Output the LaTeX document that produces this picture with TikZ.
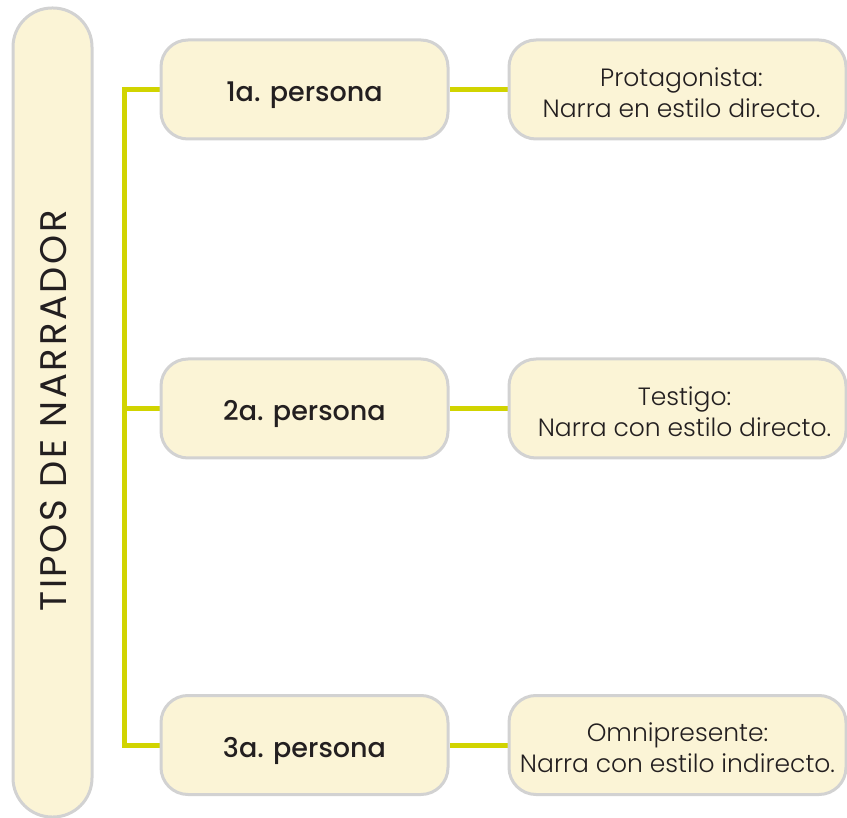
\documentclass[tikz,border=0pt]{standalone}
\usepackage{fontspec}
\setmainfont{Poppins}
\newfontfamily\lightfont{Poppins Light}
\newfontfamily\medfont{Poppins Medium}
\newfontfamily\titlefont[LetterSpace=7]{Poppins}
\usetikzlibrary{backgrounds}
\definecolor{boxfill}{HTML}{FBF4D6}
\definecolor{boxline}{HTML}{D2D2D2}
\definecolor{linkcol}{HTML}{D1D400}
\definecolor{txt}{HTML}{231F20}
\newcommand{\pushmid}{\rule{0pt}{32pt}}
\newcommand{\pushright}{\rule{0pt}{25pt}}
\begin{document}
\begin{tikzpicture}[x=1pt,y=1pt,
  box/.style={draw=boxline,line width=3pt,fill=boxfill,rounded corners=27pt,inner sep=0pt,text=txt,align=center},
  midbox/.style={box,minimum width=287pt,minimum height=99pt,font=\medfont\fontsize{27}{30}\selectfont},
  rightbox/.style={box,minimum width=337pt,minimum height=99pt,font=\lightfont\fontsize{25}{31}\selectfont},
  link/.style={draw=linkcol,line width=5pt}]
\useasboundingbox (0,0) rectangle (847,-818);
\node[box,rounded corners=39pt,minimum width=79pt,minimum height=809pt] (title) at (52.5,-412.5) {};
\node[rotate=90,text=txt,font=\titlefont\fontsize{37}{40}\selectfont] (titletext) at (54,-411) {TIPOS DE NARRADOR};
\node[midbox] (p1) at (304.5,-89.5) {\pushmid 1a. persona};
\node[midbox] (p2) at (304.5,-408.5) {\pushmid 2a. persona};
\node[midbox] (p3) at (304.5,-745) {\pushmid 3a. persona};
\node[rightbox] (r1) at (677.5,-89.5) {\pushright\hspace*{8pt}Protagonista:\\\hspace*{8pt}Narra en estilo directo.};
\node[rightbox] (r2) at (677.5,-408.5) {\pushright\hspace*{14pt}Testigo:\\\hspace*{14pt}Narra con estilo directo.};
\node[rightbox] (r3) at (677.5,-745) {\pushright Omnipresente:\\Narra con estilo indirecto.};
\coordinate (trunk) at (124,0);
\begin{pgfonlayer}{background}
\draw[link] (p1.west) -- (p1.west -| trunk) -- (p3.west -| trunk) -- (p3.west);
\draw[link] (p2.west) -- (p2.west -| trunk);
\draw[link] (p1.east) -- (r1.west);
\draw[link] (p2.east) -- (r2.west);
\draw[link] (p3.east) -- (r3.west);
\end{pgfonlayer}
\end{tikzpicture}
\end{document}
